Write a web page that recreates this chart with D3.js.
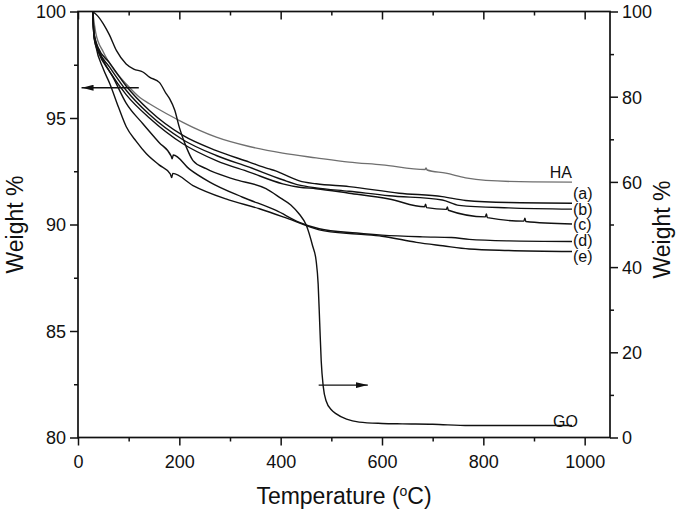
<!DOCTYPE html>
<html>
<head>
<meta charset="utf-8">
<script src="https://cdn.jsdelivr.net/npm/d3@7"></script>
<style>
  body { margin: 0; background: #fff; }
  .tick text { font-family: "Liberation Sans", Arial, sans-serif; font-size: 18px; fill: #111; }
  .tick line { stroke: #111; stroke-width: 1.5; }
  .axisText { font-family: "Liberation Sans", Arial, sans-serif; font-size: 23px; fill: #111; }
  .curveText { font-family: "Liberation Sans", Arial, sans-serif; font-size: 16px; fill: #111; }
</style>
</head>
<body>
<script>
// temperatures (C) and weight %, one pair of arrays per sample
var haTemp = [29, 35, 50, 70, 95, 122, 141, 175, 207, 240, 273, 338, 404, 470, 535, 600, 685, 687, 689, 726, 765, 805, 897, 975];
var haWeight = [100, 99.0, 98.1, 97.3, 96.6, 95.96, 95.67, 95.2, 94.8, 94.42, 94.1, 93.66, 93.35, 93.13, 92.93, 92.8, 92.58, 92.66, 92.56, 92.41, 92.19, 92.07, 92.0, 91.99];

var aTemp = [29, 32, 40, 62, 95, 141, 207, 273, 338, 375, 390, 404, 437, 470, 535, 634, 719, 765, 850, 975];
var aWeight = [100, 98.9, 98.3, 97.6, 96.5, 95.35, 94.18, 93.47, 92.93, 92.62, 92.52, 92.38, 92.05, 91.91, 91.78, 91.47, 91.31, 91.13, 91.03, 91.0];

var bTemp = [29, 32, 40, 62, 95, 141, 207, 273, 338, 404, 437, 470, 535, 614, 719, 752, 850, 975];
var bWeight = [100, 98.8, 98.2, 97.4, 96.3, 95.16, 93.98, 93.24, 92.69, 92.1, 91.85, 91.72, 91.56, 91.35, 91.15, 90.9, 90.78, 90.72];

var cTemp = [29, 32, 40, 62, 95, 141, 207, 273, 338, 404, 437, 470, 535, 614, 684, 686, 688, 727, 729, 731, 804, 806, 808, 880, 882, 884, 975];
var cWeight = [100, 98.7, 98.1, 97.2, 96.1, 95.0, 93.79, 93.0, 92.46, 91.91, 91.75, 91.68, 91.47, 91.2, 90.83, 90.95, 90.79, 90.71, 90.82, 90.67, 90.36, 90.5, 90.32, 90.16, 90.3, 90.14, 90.02];

var dTemp = [29, 31, 35, 50, 69, 95, 128, 160, 184, 186, 188, 220, 260, 325, 391, 437, 476, 550, 600, 680, 737, 772, 850, 975];
var dWeight = [100, 99.1, 98.6, 97.7, 96.92, 95.7, 94.73, 93.85, 93.2, 93.08, 93.26, 92.6, 91.99, 91.28, 90.66, 90.1, 89.8, 89.6, 89.5, 89.42, 89.39, 89.3, 89.23, 89.2];

var eTemp = [29, 31, 35, 50, 63, 80, 95, 115, 135, 160, 182, 185, 187, 227, 292, 358, 424, 476, 550, 600, 668, 720, 772, 850, 975];
var eWeight = [100, 99.0, 98.4, 97.3, 96.6, 95.5, 94.6, 93.9, 93.32, 92.8, 92.38, 92.2, 92.4, 91.83, 91.2, 90.74, 90.19, 89.75, 89.55, 89.45, 89.16, 89.0, 88.85, 88.78, 88.73];

// GO is read on the right hand axis
var goTemp = [29, 40, 50, 62, 76, 95, 110, 128, 141, 161, 174, 181, 191, 200, 214, 227, 253, 306, 371, 400, 420, 437, 450, 463, 470, 474, 477, 480, 484, 490, 500, 509, 530, 555, 600, 640, 700, 772, 975];
var goWeight = [100, 98.8, 97.1, 94.5, 90.8, 87.7, 86.5, 85.8, 84.6, 83.3, 80.7, 79.5, 76.8, 72.8, 68.1, 65.0, 63.1, 60.7, 58.4, 56.2, 54.6, 52.4, 50.0, 45.0, 41.5, 36.0, 27.0, 18.0, 12.0, 8.5, 6.5, 5.6, 4.3, 3.6, 3.3, 3.2, 3.1, 2.8, 2.8];

var leftSeries = [
  {name: "HA", temp: haTemp, weight: haWeight, color: "#6f6f6f"},
  {name: "(a)", temp: aTemp, weight: aWeight, color: "#111"},
  {name: "(b)", temp: bTemp, weight: bWeight, color: "#111"},
  {name: "(c)", temp: cTemp, weight: cWeight, color: "#111"},
  {name: "(d)", temp: dTemp, weight: dWeight, color: "#111"},
  {name: "(e)", temp: eTemp, weight: eWeight, color: "#111"}
];

var svgWidth = 685;
var svgHeight = 511;
var margin = {top: 11.5, right: 75, bottom: 73.5, left: 78};
var width = svgWidth - margin.left - margin.right;
var height = svgHeight - margin.top - margin.bottom;

var svg = d3.select("body")
  .append("svg")
  .attr("width", svgWidth)
  .attr("height", svgHeight);

var chartGroup = svg.append("g")
  .attr("transform", `translate(${margin.left}, ${margin.top})`);

var xScale = d3.scaleLinear().domain([0, 1050]).range([0, width]);
var yLeft = d3.scaleLinear().domain([80, 100]).range([height, 0]);
var yRight = d3.scaleLinear().domain([0, 100]).range([height, 0]);

// axes: major ticks with labels, then short minor ticks
function addAxis(axis, transform, majors, minors, inward) {
  var sz = inward ? -8 : 8;
  var g = chartGroup.append("g").attr("transform", transform);
  g.call(axis.tickValues(majors).tickSize(sz).tickSizeOuter(0).tickPadding(4).tickFormat(d3.format("d")));
  if (inward) g.selectAll("text").remove();
  var m = chartGroup.append("g").attr("transform", transform);
  m.call(axis.tickValues(minors).tickSize(inward ? -4 : 4).tickFormat(""));
  g.select(".domain").remove();
  m.select(".domain").remove();
  return g;
}

addAxis(d3.axisBottom(xScale), `translate(0, ${height})`, d3.range(0, 1001, 200), d3.range(100, 1001, 200), false)
  .selectAll("text").attr("dy", "1.05em");
addAxis(d3.axisTop(xScale), "translate(0, 0)", d3.range(0, 1001, 200), d3.range(100, 1001, 200), true);
addAxis(d3.axisLeft(yLeft), "translate(0, 0)", d3.range(80, 101, 5), d3.range(82.5, 100, 5), false)
  .selectAll("text").attr("dy", "0.36em");
addAxis(d3.axisRight(yRight), `translate(${width}, 0)`, d3.range(0, 101, 20), d3.range(10, 100, 20), false)
  .selectAll("text").attr("dy", "0.36em");

// frame
chartGroup.append("rect")
  .attr("width", width)
  .attr("height", height)
  .attr("fill", "none")
  .attr("stroke", "#111")
  .attr("stroke-width", 1.7);

// curves
var leftLine = d3.line()
  .x(d => xScale(d[0]))
  .y(d => yLeft(d[1]))
  .curve(d3.curveMonotoneX);

leftSeries.forEach(function(s) {
  chartGroup.append("path")
    .datum(d3.zip(s.temp, s.weight))
    .attr("d", leftLine)
    .attr("fill", "none")
    .attr("stroke", s.color)
    .attr("stroke-width", 1.4);
});

var rightLine = d3.line()
  .x(d => xScale(d[0]))
  .y(d => yRight(d[1]))
  .curve(d3.curveMonotoneX);

chartGroup.append("path")
  .datum(d3.zip(goTemp, goWeight))
  .attr("d", rightLine)
  .attr("fill", "none")
  .attr("stroke", "#111")
  .attr("stroke-width", 1.4);

// curve labels
var endX = xScale(975);
chartGroup.append("text")
  .attr("class", "curveText")
  .attr("x", endX)
  .attr("y", yLeft(haWeight[haWeight.length - 1]) - 4)
  .attr("text-anchor", "end")
  .text("HA");

var firstY = yLeft(aWeight[aWeight.length - 1]) - 10;
leftSeries.slice(1).forEach(function(s, i) {
  chartGroup.append("text")
    .attr("class", "curveText")
    .attr("x", endX + 1)
    .attr("y", firstY + i * 15.8)
    .attr("dy", "0.35em")
    .text(s.name);
});

chartGroup.append("text")
  .attr("class", "curveText")
  .attr("x", endX + 6)
  .attr("y", yRight(goWeight[goWeight.length - 1]) + 1)
  .attr("text-anchor", "end")
  .text("GO");

// arrows pointing to the axis each curve is read on
svg.append("defs").append("marker")
  .attr("id", "head")
  .attr("viewBox", "0 0 12 6")
  .attr("refX", 12)
  .attr("refY", 3)
  .attr("markerWidth", 12)
  .attr("markerHeight", 6)
  .attr("markerUnits", "userSpaceOnUse")
  .attr("orient", "auto")
  .append("path")
  .attr("d", "M0,0L12,3L0,6Z")
  .attr("fill", "#111");

chartGroup.append("line")
  .attr("x1", xScale(120)).attr("x2", xScale(7))
  .attr("y1", yLeft(96.42)).attr("y2", yLeft(96.42))
  .attr("stroke", "#111").attr("stroke-width", 1.3)
  .attr("marker-end", "url(#head)");

chartGroup.append("line")
  .attr("x1", xScale(475)).attr("x2", xScale(572))
  .attr("y1", yRight(12.3)).attr("y2", yRight(12.3))
  .attr("stroke", "#111").attr("stroke-width", 1.3)
  .attr("marker-end", "url(#head)");

// axis titles
chartGroup.append("text")
  .attr("class", "axisText")
  .attr("transform", "rotate(-90)")
  .attr("x", 0 - (height / 2))
  .attr("y", 0 - margin.left + 23)
  .attr("text-anchor", "middle")
  .text("Weight %");

chartGroup.append("text")
  .attr("class", "axisText")
  .attr("transform", `translate(${width + 60}, ${height / 2 + 5}) rotate(-90)`)
  .attr("text-anchor", "middle")
  .text("Weight %");

var xTitle = chartGroup.append("text")
  .attr("class", "axisText")
  .attr("x", width / 2)
  .attr("y", height + 66)
  .attr("text-anchor", "middle");
xTitle.append("tspan").text("Temperature (");
xTitle.append("tspan").attr("font-size", "14px").attr("dy", "-8").text("o");
xTitle.append("tspan").attr("dy", "8").text("C)");
</script>
</body>
</html>
